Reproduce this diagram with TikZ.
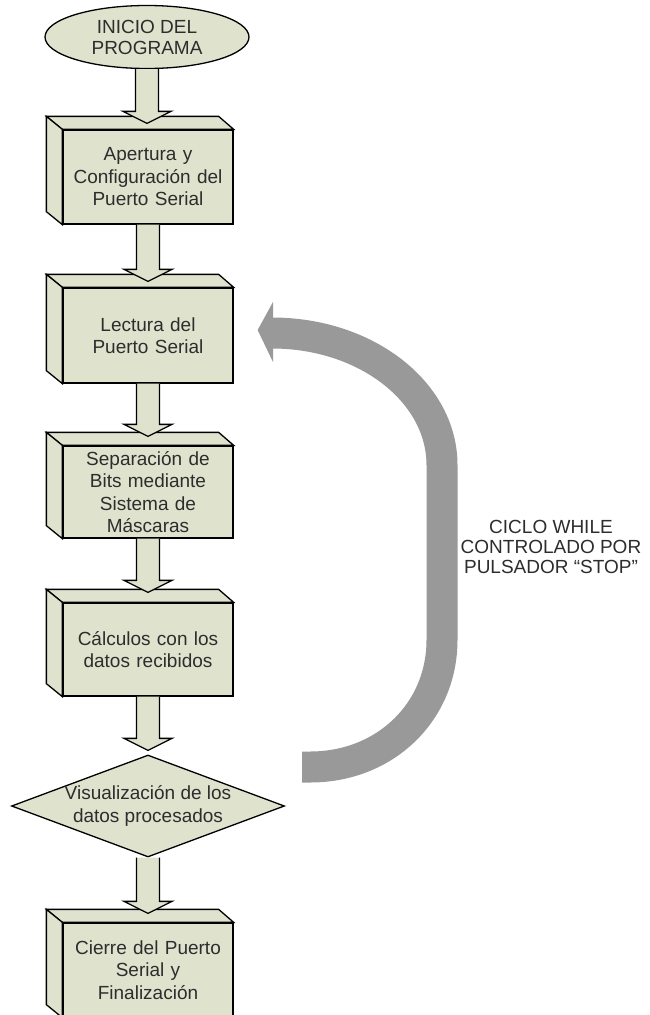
\documentclass[tikz,border=0pt]{standalone}
\usepackage{fontspec}
\setmainfont{Liberation Sans}
\usetikzlibrary{shapes.geometric,calc}
\definecolor{boxfill}{RGB}{223,227,206}
\definecolor{loopgray}{RGB}{153,153,153}
\definecolor{txt}{RGB}{45,45,45}
\tikzset{
  outl/.style={draw=black, line width=1.3pt, line join=miter},
  face/.style={fill=boxfill, outl},
  procbox/.style={rectangle, fill=boxfill, outl, minimum width=170pt, inner sep=0pt,
     text width=166pt, align=center, text=txt, font=\fontsize{19}{22.5}\selectfont},
  startnode/.style={ellipse, fill=boxfill, outl, minimum width=204pt, minimum height=63pt,
     inner sep=0pt, align=center, text=txt, font=\fontsize{19}{21}\selectfont},
  decnode/.style={diamond, fill=boxfill, outl, minimum width=273pt, minimum height=102pt, inner sep=0pt},
  dectext/.style={align=center, text=txt, inner sep=0pt, font=\fontsize{19}{23}\selectfont},
  lbl/.style={align=center, text=txt, inner sep=0pt, font=\fontsize{19}{20}\selectfont},
  loopband/.style={draw=loopgray, line width=31pt, line cap=butt}
}
\newcommand\boxfaces[1]{%
  \filldraw[face] (#1.north west) -- ++(-16,-13) -- ($(#1.north east)+(-15,-13)$) -- (#1.north east) -- cycle;
  \filldraw[face] (#1.north west) -- ++(-16,-13) -- ($(#1.south west)+(-16,-13)$) -- (#1.south west) -- cycle;}
\newcommand\blockarr[3]{%
  \fill[boxfill] let \p1=(#1.south), \p2=(#2.north) in
    (\x1+11.5pt,\y1) -- (\x1+11.5pt,\y2+#3pt+12pt) -- (\x1+24pt,\y2+#3pt+12pt) -- (\x1,\y2+#3pt)
    -- (\x1-24pt,\y2+#3pt+12pt) -- (\x1-11.5pt,\y2+#3pt+12pt) -- (\x1-11.5pt,\y1) -- cycle;
  \draw[outl] let \p1=(#1.south), \p2=(#2.north) in
    (\x1+11.5pt,\y1) -- (\x1+11.5pt,\y2+#3pt+12pt) -- (\x1+24pt,\y2+#3pt+12pt) -- (\x1,\y2+#3pt)
    -- (\x1-24pt,\y2+#3pt+12pt) -- (\x1-11.5pt,\y2+#3pt+12pt) -- (\x1-11.5pt,\y1);}
\begin{document}
\begin{tikzpicture}[x=1pt,y=-1pt]
\useasboundingbox (0,0) rectangle (649,1015);
\fill[white] (0,0) rectangle (649,1015);

% nodes
\node[startnode] (ini) at (147,37) {INICIO DEL\\PROGRAMA};
\node[procbox, minimum height=94pt] (b1) at (148,177) {Apertura y\\Configuración del\\Puerto Serial};
\node[procbox, minimum height=95pt] (b2) at (148,335.5) {Lectura del\\Puerto Serial};
\node[procbox, minimum height=92pt] (b3) at (148,492) {Separación de\\Bits mediante\\Sistema de\\Máscaras};
\node[procbox, minimum height=93pt] (b4) at (148,649.5) {Cálculos con los\\datos recibidos};
\node[decnode] (diam) at (148,806) {};
\node[dectext] (diamtxt) at (diam.center) {Visualización de los\\datos procesados};
\node[procbox, minimum height=94pt] (b5) at (148,970) {Cierre del Puerto\\Serial y\\Finalización};

\boxfaces{b1}
\boxfaces{b2}
\boxfaces{b3}
\boxfaces{b4}
\boxfaces{b5}

% block arrows
\blockarr{ini}{b1}{6}
\blockarr{b1}{b2}{6}
\blockarr{b2}{b3}{9}
\blockarr{b3}{b4}{10}
\blockarr{b4}{diam}{4}
\blockarr{diam}{b5}{9}

% loop arrow
\coordinate (loopS) at ($(diam.east)+(17,-39)$);
\coordinate (loopE) at ($(b2.east)+(24,-5.5)$);
\draw[loopband] (loopS) -- ++(8,0) .. controls (385,767) and (442,712) .. (442,640)
   -- (442,465) .. controls (442,392) and (366,333) .. (272,333);
\fill[loopgray] (273,302) -- (loopE) -- (273,362) -- cycle;

\node[lbl] (lab) at (551,547) {CICLO WHILE\\CONTROLADO POR\\PULSADOR “STOP”};
\end{tikzpicture}
\end{document}
